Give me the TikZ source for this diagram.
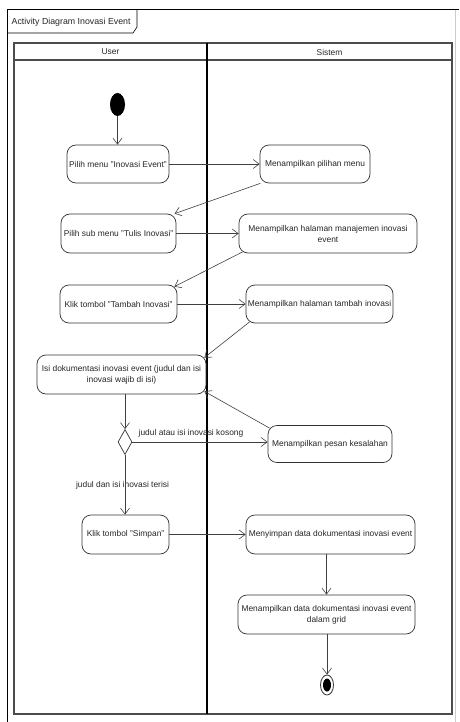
\documentclass[tikz,border=0pt]{standalone}
\usepackage{fontspec}
\setmainfont{Liberation Sans}
\usetikzlibrary{arrows.meta,shapes.geometric,calc}
\begin{document}
\begin{tikzpicture}[x=1pt,y=-1pt,
  act/.style={draw=black!80, line width=0.7pt, rounded corners=9pt, align=center, inner sep=1pt, text=black!85, font=\fontsize{8.4}{11}\selectfont},
  flow/.style={draw=black!75, line width=0.6pt, -{Straight Barb[length=6pt,width=9pt]}},
  lbl/.style={font=\fontsize{8.4}{11}\selectfont, inner sep=0.5pt, text=black!85}]
\useasboundingbox (0,0) rectangle (459,722);
\fill[white] (0,0) rectangle (459,722);
% frame
\draw[line width=1pt] (7,722) -- (7,10) -- (459,10);
\draw[gray!40, line width=0.6pt] (455,10) -- (455,722);
\draw[line width=0.6pt] (7,33) -- (133,33) -- (137,27) -- (137,10);
\node[lbl, anchor=west, font=\fontsize{8.8}{11}\selectfont] (title) at (11,22) {Activity Diagram Inovasi Event};
% pool
\draw[black!70, line width=1.2pt] (14,43) rectangle (452,714);
\draw[black!70, line width=1.2pt] (14,60) -- (452,60);
\draw[black, line width=1.3pt] (207,43) -- (207,714);
\node[lbl] (hu) at (110.5,52) {User};
\node[lbl] (hs) at (329.5,52) {Sistem};
% nodes
\node[fill=black, ellipse, minimum width=15pt, minimum height=23pt, inner sep=0pt] (start) at (117.5,104.5) {};
\node[act, minimum width=102pt, minimum height=38pt] (a1) at (118,164) {Pilih menu "Inovasi Event"};
\node[act, minimum width=110pt, minimum height=38pt] (s1) at (315,164) {Menampilkan pilihan menu};
\node[act, minimum width=115pt, minimum height=39pt] (a2) at (118.5,233.5) {Pilih sub menu "Tulis Inovasi"};
\node[act, minimum width=178pt, minimum height=39pt] (s2) at (328,233.5) {Menampilkan halaman manajemen inovasi\\event};
\node[act, minimum width=117pt, minimum height=38pt] (a3) at (118.5,304) {Klik tombol "Tambah Inovasi"};
\node[act, minimum width=147pt, minimum height=38pt] (s3) at (319.5,304) {Menampilkan halaman tambah inovasi};
\node[act, minimum width=169pt, minimum height=39pt] (a4) at (121.5,374.5) {Isi dokumentasi inovasi event (judul dan isi\\inovasi wajib di isi)};
\node[draw=black!80, line width=0.7pt, diamond, minimum width=14pt, minimum height=25pt, inner sep=0pt] (dia) at (125,442) {};
\node[act, minimum width=124pt, minimum height=37pt] (s4) at (330,444) {Menampilkan pesan kesalahan};
\node[act, minimum width=87pt, minimum height=39pt] (a5) at (125.5,534.5) {Klik tombol "Simpan"};
\node[act, minimum width=169pt, minimum height=39pt] (s5) at (330.5,534.5) {Menyimpan data dokumentasi inovasi event};
\node[act, minimum width=177pt, minimum height=39pt] (s6) at (326.5,614.5) {Menampilkan data dokumentasi inovasi event\\dalam grid};
\node[draw=black!80, line width=0.8pt, ellipse, minimum width=13pt, minimum height=20pt, inner sep=0pt] (end) at (327,685) {};
\node[fill=black, ellipse, minimum width=8pt, minimum height=13pt, inner sep=0pt] (endin) at (end) {};
% labels
\node[lbl, anchor=west] (l1) at (138,433) {judul atau isi inovasi kosong};
\node[lbl] (l2) at (122.5,485) {judul dan isi inovasi terisi};
% connectors
\draw[flow] (start.south) -- (start.south |- a1.north);
\draw[flow] (a1) -- (s1);
\draw[flow] (s1) -- (a2);
\draw[flow] (a2) -- (s2);
\draw[flow] ($(s2.south west)+(4,-1.5)$) -- ($(a3.north east)+(-3,2)$);
\draw[flow] (a3) -- (s3);
\draw[flow] ($(s3.south west)+(4,-1.5)$) -- ($(a4.north east)+(-2,3)$);
\draw[flow] (dia.north |- a4.south) -- (dia.north);
\draw[flow] (dia.east) -- (dia.east -| s4.west);
\draw[flow] ($(s4.north west)+(2,3)$) -- ($(a4.south east)+(-2,-3)$);
\draw[flow] (dia.south) -- (dia.south |- a5.north);
\draw[flow] (a5) -- (s5);
\draw[flow] (s6.north |- s5.south) -- (s6.north);
\draw[flow] (end.north |- s6.south) -- (end.north);
\end{tikzpicture}
\end{document}
